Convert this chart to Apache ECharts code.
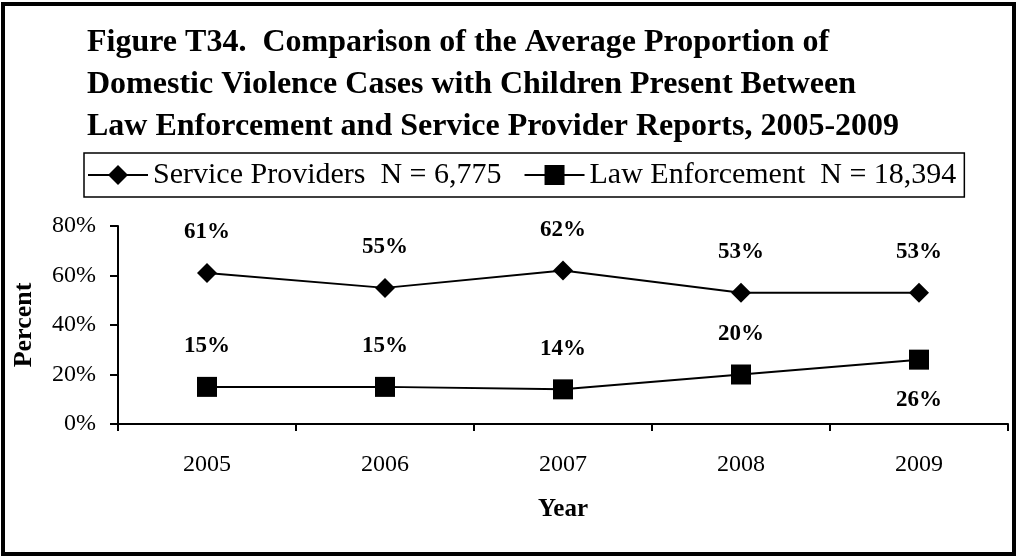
<!DOCTYPE html>
<html>
<head>
<meta charset="utf-8">
<script src="https://cdn.jsdelivr.net/npm/echarts@6/dist/echarts.min.js"></script>
<style>
html,body{margin:0;padding:0;background:#fff;}
#chart{width:1016px;height:557px;}
</style>
</head>
<body>
<div id="chart"></div>
<script>
const titleText = 'Figure T34.  Comparison of the Average Proportion of\nDomestic Violence Cases with Children Present Between\nLaw Enforcement and Service Provider Reports, 2005-2009';
const years = ['2005', '2006', '2007', '2008', '2009'];
const serviceName = 'Service Providers  N = 6,775';
const lawName = 'Law Enforcement  N = 18,394';
const serviceValues = [61, 55, 62, 53, 53];
const lawValues = [15, 15, 14, 20, 26];
const lawLabelBelow = [false, false, false, false, true];
const yTicks = [0, 20, 40, 60, 80];

const FONT = '"Liberation Serif", "Times New Roman", serif';
const chart = echarts.init(document.getElementById('chart'), null, {renderer: 'canvas'});

const labelStyle = {
  show: true,
  fontFamily: FONT,
  fontSize: 23,
  fontWeight: 'bold',
  color: '#000',
  distance: 19,
  formatter: p => p.value + '%'
};

chart.setOption({
  animation: false,
  backgroundColor: '#fff',
  graphic: [{
    type: 'rect',
    shape: {x: 3, y: 4, width: 1011, height: 550},
    style: {fill: 'none', stroke: '#000', lineWidth: 4},
    silent: true
  }],
  title: {
    text: titleText,
    left: 87,
    top: 22,
    padding: 0,
    textStyle: {
      fontFamily: FONT,
      fontSize: 32,
      fontWeight: 'bold',
      color: '#000',
      lineHeight: 42
    }
  },
  legend: {
    left: 84,
    top: 153,
    padding: [7, 8, 7, 3],
    borderColor: '#000',
    borderWidth: 1.5,
    itemWidth: 60,
    itemHeight: 25,
    itemGap: 22,
    textStyle: {fontFamily: FONT, fontSize: 30, color: '#000'},
    data: [serviceName, lawName]
  },
  grid: {left: 118, right: 8, top: 226, bottom: 133, containLabel: false},
  xAxis: {
    type: 'category',
    data: years,
    boundaryGap: true,
    name: 'Year',
    nameLocation: 'middle',
    nameGap: 73,
    nameTextStyle: {fontFamily: FONT, fontSize: 25, fontWeight: 'bold', color: '#000'},
    axisLine: {lineStyle: {color: '#000', width: 2}},
    axisTick: {show: true, length: 7, lineStyle: {color: '#000', width: 2}, alignWithLabel: false},
    axisLabel: {fontFamily: FONT, fontSize: 24, color: '#000', margin: 29}
  },
  yAxis: {
    type: 'value',
    min: yTicks[0],
    max: yTicks[yTicks.length - 1],
    interval: 20,
    name: 'Percent',
    nameLocation: 'middle',
    nameGap: 81,
    nameRotate: 90,
    nameTextStyle: {fontFamily: FONT, fontSize: 26, fontWeight: 'bold', color: '#000'},
    splitLine: {show: false},
    axisLine: {show: true, lineStyle: {color: '#000', width: 2}},
    axisTick: {show: true, length: 8, lineStyle: {color: '#000', width: 2}},
    axisLabel: {fontFamily: FONT, fontSize: 24, color: '#000', margin: 22, padding: [10, 0, 0, 0], formatter: v => v + '%'}
  },
  series: [
    {
      name: serviceName,
      type: 'line',
      data: serviceValues,
      symbol: 'diamond',
      symbolSize: 20,
      lineStyle: {color: '#000', width: 2},
      itemStyle: {color: '#000'},
      label: Object.assign({}, labelStyle, {position: 'top'})
    },
    {
      name: lawName,
      type: 'line',
      data: lawValues.map((v, i) => ({
        value: v,
        label: {position: lawLabelBelow[i] ? 'bottom' : 'top'}
      })),
      symbol: 'rect',
      symbolSize: 20,
      lineStyle: {color: '#000', width: 2},
      itemStyle: {color: '#000'},
      label: Object.assign({}, labelStyle, {position: 'top'})
    }
  ]
});
</script>
</body>
</html>
